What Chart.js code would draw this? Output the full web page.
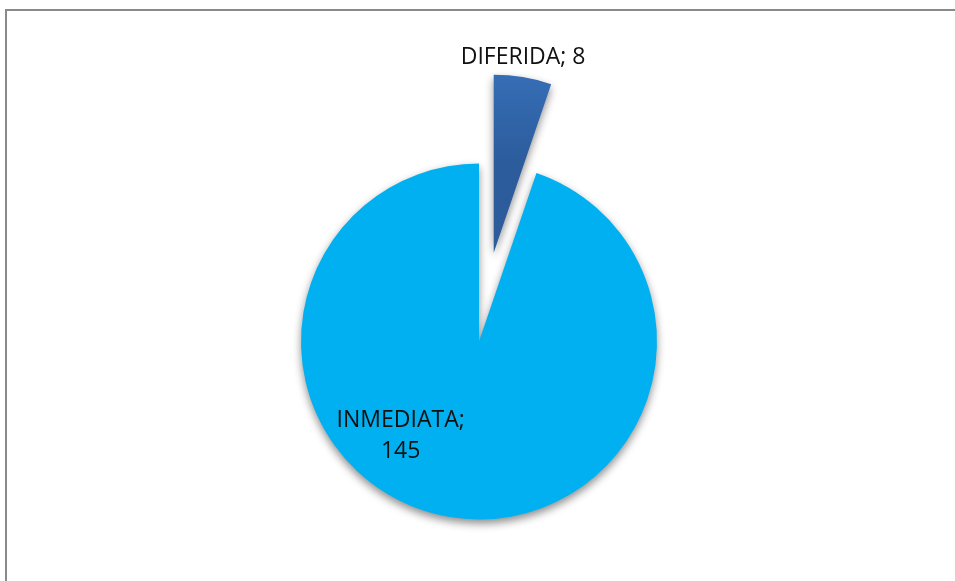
<!DOCTYPE html>
<html>
<head>
<meta charset="utf-8">
<title>INMEDIATA / DIFERIDA</title>
<script src="https://cdn.jsdelivr.net/npm/chart.js@4/dist/chart.umd.min.js"></script>
<style>
  html, body { margin: 0; padding: 0; background: #ffffff; }
  #wrap { position: relative; width: 955px; height: 581px; overflow: hidden; }
  canvas { display: block; }
</style>
</head>
<body>
<div id="wrap"><canvas id="pie" width="955" height="581"></canvas></div>
<script>
// Data
const categories = ['DIFERIDA', 'INMEDIATA'];
const values = [8, 145];
const exploded = [true, false];

// Styling
const LABEL_FONT = '23px "Open Sans", "Liberation Sans", sans-serif';
const EXPLODE_DIST = 90;
const PIE_RADIUS = 178;
const PLAIN_FILL = '#00b0f0';

// Vertical blue gradient for the pulled-out slice
function explodedFill(chart) {
  const ca = chart.chartArea;
  if (!ca || !isFinite(ca.top) || !isFinite(ca.bottom)) return '#3a74bf';
  const cy = (ca.top + ca.bottom) / 2;
  const top = cy - PIE_RADIUS - EXPLODE_DIST;
  const bottom = cy - EXPLODE_DIST;
  const g = chart.ctx.createLinearGradient(0, top, 0, bottom);
  g.addColorStop(0, '#3f7fcf');
  g.addColorStop(1, '#2c5c9c');
  return g;
}

function sliceFill(context) {
  return exploded[context.dataIndex] ? explodedFill(context.chart) : PLAIN_FILL;
}

// Outer frame of the chart box
const framePlugin = {
  id: 'frame',
  beforeDraw(chart) {
    const ctx = chart.ctx;
    ctx.save();
    ctx.strokeStyle = '#8a8a8a';
    ctx.lineWidth = 2;
    ctx.beginPath();
    ctx.moveTo(6, chart.height + 5);
    ctx.lineTo(6, 10);
    ctx.lineTo(chart.width + 5, 10);
    ctx.stroke();
    ctx.restore();
  }
};

// Draws the slices with a soft shadow, pulling out the exploded slice
const explodePlugin = {
  id: 'explode',
  beforeDatasetsDraw(chart) {
    const ctx = chart.ctx;
    const meta = chart.getDatasetMeta(0);
    meta.data.forEach((arc, i) => {
      ctx.save();
      ctx.shadowColor = 'rgba(0,0,0,0.45)';
      ctx.shadowBlur = 8;
      ctx.shadowOffsetX = 0;
      ctx.shadowOffsetY = 4;
      if (exploded[i]) {
        const mid = (arc.startAngle + arc.endAngle) / 2;
        ctx.translate(Math.cos(mid) * EXPLODE_DIST, Math.sin(mid) * EXPLODE_DIST);
      }
      arc.draw(ctx);
      ctx.restore();
    });
    return false;
  }
};

// Category; value labels
const labelPlugin = {
  id: 'sliceLabels',
  afterDraw(chart) {
    const ctx = chart.ctx;
    const meta = chart.getDatasetMeta(0);
    ctx.save();
    ctx.font = LABEL_FONT;
    ctx.fillStyle = '#111111';
    ctx.textAlign = 'center';
    ctx.textBaseline = 'middle';
    meta.data.forEach((arc, i) => {
      const r = arc.outerRadius;
      const text = categories[i] + '; ' + values[i];
      if (exploded[i]) {
        const mid = (arc.startAngle + arc.endAngle) / 2;
        const d = EXPLODE_DIST + r + 20;
        ctx.fillText(text, arc.x + Math.cos(mid) * d - 3, arc.y + Math.sin(mid) * d);
      } else {
        const lx = arc.x - 0.44 * r;
        const ly = arc.y + 0.53 * r;
        ctx.fillText(categories[i] + ';', lx, ly - 15.5);
        ctx.fillText(String(values[i]), lx, ly + 15.5);
      }
    });
    ctx.restore();
  }
};

new Chart(document.getElementById('pie'), {
  type: 'pie',
  data: {
    labels: categories,
    datasets: [{
      data: values,
      backgroundColor: sliceFill,
      borderWidth: 0,
      hoverOffset: 0
    }]
  },
  options: {
    responsive: false,
    animation: false,
    radius: PIE_RADIUS,
    layout: { padding: { left: 3, right: 0, top: 102, bottom: 0 } },
    plugins: {
      legend: { display: false },
      tooltip: { enabled: false }
    },
    events: []
  },
  plugins: [framePlugin, explodePlugin, labelPlugin]
});
</script>
</body>
</html>
